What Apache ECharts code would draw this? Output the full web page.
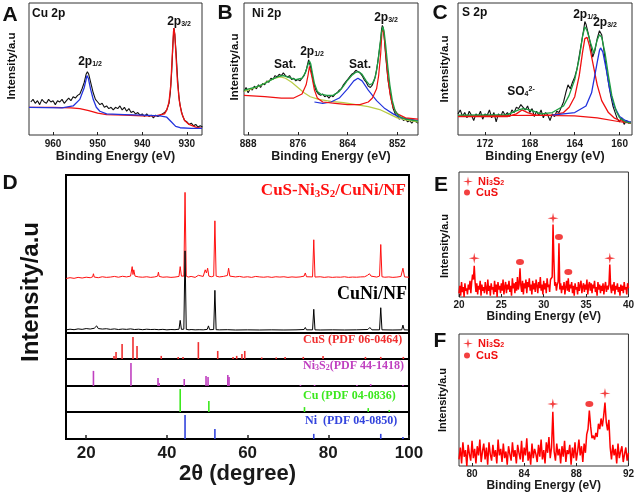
<!DOCTYPE html>
<html><head><meta charset="utf-8">
<script src="https://cdn.jsdelivr.net/npm/echarts@6/dist/echarts.min.js"></script>
<style>html,body{margin:0;padding:0;background:#fff}#c{width:637px;height:493px}</style>
</head><body><div id="c"></div>
<script>
// ---------- Panel A: Cu 2p (binding energy eV, intensity a.u.) ----------
const A_TICKS = [960, 950, 940, 930];
const A_EXP = [[965,25],[964.5,27],[964,24],[963.5,26],[963,23],[962.5,27],[962,25],[961.5,24],[961,27],[960.5,25],[960,26],[959.5,23],[959,26],[958.5,25],[958,27],[957.5,24],[957,26],[956.5,28],[956,26],[955.5,29],[955,28],[954.5,30],[954,31],[953.5,35],[953,40],[952.6,46],[952.3,48],[952,46],[951.5,39],[951,32],[950.5,27],[950,25],[949.5,23],[949,24],[948.5,21],[948,22],[947.5,20],[947,21],[946.5,19],[946,21],[945.5,20],[945,22],[944.5,19],[944,21],[943.5,18],[943,20],[942.5,17],[942,18],[941.5,16],[941,17],[940.5,15],[940,16],[939.5,14],[939,16],[938.5,14],[938,15],[937.5,13],[937,15],[936.5,14],[936,15],[935.5,16],[935,17],[934.5,19],[934,24],[933.7,32],[933.4,48],[933.1,70],[932.9,81],[932.7,76],[932.4,62],[932.1,44],[931.8,30],[931.5,22],[931,15],[930.5,11],[930,10],[929.5,8],[929,9],[928.5,7],[928,8],[927.5,6],[927,7],[926.5,6]];
const A_RED = [[965.4,21],[960,21],[956,20.5],[954,20],[952,18.5],[950,16.5],[948,15.5],[944,15],[940,14.5],[937,14.5],[935,16],[934.5,19],[934,25],[933.6,38],[933.3,58],[933,78],[932.9,81],[932.7,76],[932.4,58],[932.1,40],[931.7,26],[931.2,17],[930.5,11],[929.5,8],[928,6],[926.6,5]];
const A_BLUE = [[965.4,21],[958,20.5],[955.5,22],[954,27],[953,36],[952.6,42],[952.4,45],[952.1,43],[951.6,35],[951,27],[950.3,21],[949.5,18],[948,16],[944,15.5],[940,15],[936,14.5],[934.5,13.5],[933.5,10],[932.5,6.5],[931.5,5.5],[929,5],[926.6,5]];

// ---------- Panel B: Ni 2p ----------
const B_TICKS = [888, 876, 864, 852];
const B_EXP = [[889,33],[888.5,36],[888,32],[887.5,35],[887,34],[886.5,37],[886,35],[885.5,38],[885,36],[884.5,39],[884,38],[883.5,41],[883,40],[882.5,43],[882,42],[881.5,45],[881,44],[880.5,46],[880,45],[879.5,47],[879,45],[878.5,44],[878,45],[877.5,42],[877,43],[876.5,41],[876,42],[875.5,41],[875,43],[874.5,45],[874,49],[873.7,53],[873.4,57],[873.1,56],[872.8,50],[872.5,44],[872,37],[871.5,33],[871,31],[870.5,30],[870,31],[869.5,29],[869,30],[868.5,28],[868,30],[867.5,29],[867,31],[866.5,32],[866,34],[865.5,35],[865,38],[864.5,40],[864,42],[863.5,44],[863,46],[862.5,47],[862,49],[861.5,48],[861,47],[860.5,45],[860,42],[859.5,40],[859,37],[858.5,36],[858,38],[857.5,42],[857,49],[856.5,60],[856,72],[855.8,80],[855.6,83],[855.4,81],[855.1,72],[854.8,60],[854.5,50],[854.2,41],[853.8,33],[853.4,26],[853,20],[852.5,16],[852,14],[851.5,12],[851,13],[850.5,11],[850,12],[849.5,10],[849,11],[848.5,9],[848,11],[847.5,10],[847,9]];
const B_FIT = [[889,34],[886,36.5],[884,39],[882,42.5],[880.5,44.5],[879.5,45],[878,43.5],[876.5,42],[875,43],[874.2,47],[873.6,53],[873.2,56],[872.9,54],[872.5,47],[872,39],[871.3,33],[870.5,31],[869,30],[867.5,30],[866,33],[865,37],[864,41.5],[863,45],[862,47.5],[861.3,48],[860.5,46],[859.5,41],[858.7,38],[858,39],[857.3,44],[856.7,55],[856.2,68],[855.8,78],[855.5,82],[855.2,79],[854.8,68],[854.3,52],[853.8,38],[853.2,26],[852.5,18],[851.5,14],[850,12],[847,10.5]];
const B_SAT1 = [[889,33],[887,35],[885,37.5],[883,41],[881.5,43],[880.2,44],[879,43],[877.5,40],[876,36],[874.5,32],[873,29],[871,27],[868,25.5],[865,24.5],[862,23],[859,21.5],[856,19],[854,16],[852,13],[850,11.5],[847,10]];
const B_SAT2 = [[872,25],[870,24],[868,25],[866,28],[864,35],[862.5,41],[861.5,43],[860.5,41],[859,34],[857,26],[855,20],[853,16],[851,13],[849,12],[847,11]];
const B_RED = [[889,30],[884,29],[880,28],[877,28],[875,31],[874,38],[873.5,46],[873.2,52],[873,51],[872.6,44],[872,34],[871.3,28],[870,25],[867,24],[864,23],[861,23],[859,25],[858,28],[857,35],[856.5,45],[856,62],[855.7,78],[855.5,81],[855.2,76],[854.8,62],[854.3,44],[853.7,30],[853,21],[852,16],[850,13],[847,12]];

// ---------- Panel C: S 2p ----------
const C_TICKS = [172, 168, 164, 160];
const C_EXP = [[174.4,16],[174.2,19],[174,14],[173.8,17],[173.6,13],[173.4,18],[173.2,15],[173,11],[172.8,16],[172.6,14],[172.4,18],[172.2,12],[172,16],[171.8,15],[171.6,19],[171.4,13],[171.2,17],[171,10],[170.8,16],[170.6,14],[170.4,18],[170.2,15],[170,17],[169.8,14],[169.6,19],[169.4,17],[169.2,21],[169,20],[168.8,23],[168.6,21],[168.4,19],[168.2,22],[168,17],[167.8,20],[167.6,14],[167.4,18],[167.2,15],[167,19],[166.8,13],[166.6,17],[166.4,15],[166.2,11],[166,16],[165.8,14],[165.6,18],[165.4,17],[165.2,21],[165,25],[164.8,32],[164.6,38],[164.4,35],[164.2,40],[164,44],[163.8,50],[163.6,60],[163.4,70],[163.2,80],[163.1,86],[163,84],[162.8,77],[162.6,69],[162.4,59],[162.2,64],[162,73],[161.8,79],[161.6,76],[161.4,64],[161.2,51],[161,40],[160.8,30],[160.6,22],[160.4,17],[160.2,12],[160,10],[159.8,13],[159.6,8],[159.4,11],[159.2,9],[159,10]];
const C_FIT = [[174.4,15],[170,15.5],[169,19],[168.6,20],[168,19],[167,16],[166,17],[165,22],[164.5,30],[164,42],[163.6,58],[163.3,75],[163.1,82],[162.9,79],[162.6,70],[162.3,62],[162,72],[161.8,76],[161.6,74],[161.3,62],[161,45],[160.7,30],[160.3,18],[160,13],[159.5,10],[159,9]];
const C_RED = [[174.4,14],[170,14],[169.2,16],[168.7,19],[168.2,17],[167.5,15],[166,15],[165,17],[164.5,21],[164,29],[163.6,45],[163.3,63],[163.1,73],[162.9,74],[162.7,68],[162.4,55],[162,38],[161.6,26],[161,17],[160.5,13],[160,11],[159,9]];
const C_BLUE = [[166,15],[164,17],[163,22],[162.5,32],[162,55],[161.8,64],[161.7,66],[161.5,63],[161.2,50],[160.9,35],[160.5,22],[160,14],[159.5,11],[159,9.5]];
const C_BG = [[174.4,14.5],[168,15],[164,14.5],[162,13],[160,10],[159,9]];

// ---------- Panel D: XRD (2theta degree) ----------
const D_TICKS = [20, 40, 60, 80, 100];
const XRD_SAMPLE = [[15,34.5],[16,35],[17,34.6],[18,35.2],[19,34.8],[20,35.3],[21,35],[21.6,35.5],[21.8,37.5],[22,35.4],[23,35],[24,35.6],[25,35.2],[26,35.4],[27,35.8],[28,35.3],[29,35.9],[30,35.5],[31,36],[31.4,42],[31.6,37],[31.8,40],[32.1,36],[33,35.5],[34,35.3],[35,35.6],[36,35.2],[37,35.5],[37.7,36],[37.9,38.5],[38.1,35.8],[39,35.3],[40,35.5],[41,35.2],[42,35.4],[43,35.8],[43.3,42],[43.6,36],[44.2,36],[44.5,89],[44.8,36],[45.3,35.4],[46,35.8],[47,35.2],[47.8,36.5],[48,35.5],[49,35.8],[49.5,40],[49.8,38],[50.1,41],[50.4,36],[51,35.6],[51.6,36],[51.9,71],[52.2,36],[53,35.5],[54,35.8],[55,36.4],[55.3,41],[55.6,36],[56,36.2],[57,35.5],[58,35.8],[59,35.3],[60,35.6],[61,35.2],[62,35.8],[63,35.5],[64,35.3],[65,35.6],[66,35.2],[67,35.6],[68,35.4],[69,35.6],[70,35.2],[71,35.5],[72,35.3],[73,35.5],[74,36],[74.3,38],[74.6,35.6],[75,35.4],[76.1,35.5],[76.4,59],[76.7,35.4],[77,35.3],[78,35.6],[79,35.2],[80,35.5],[81,35.2],[82,35.4],[83,35.3],[84,35.6],[85,35.2],[86,35.4],[87,35.3],[88,35.5],[89,35.6],[89.7,36.5],[90.2,37.5],[90.6,36],[91,35.5],[92,35.4],[92.7,36],[93,56],[93.3,35.6],[94,35.3],[95,35.5],[96,35.2],[97,35.4],[98,35.8],[98.5,41],[98.9,35.5],[100,35.3]];
const XRD_CUNI = [[15,2],[16,2.4],[17,2.1],[18,2.6],[19,2.3],[20,2.8],[21,2.5],[22,3],[22.6,4.5],[23,2.8],[24,2.5],[25,2.7],[26,2.3],[27,2.6],[28,2.2],[29,2.5],[30,2.3],[31,2.6],[32,2.2],[33,2.4],[34,2.1],[35,2.4],[36,2.2],[37,2.3],[38,2.1],[39,2.3],[40,2],[41,2.2],[42,2.1],[43,2.4],[43.3,8],[43.6,2.3],[44.2,2.4],[44.5,52],[44.8,2.3],[45.5,2],[46,2.2],[47,2],[48,2.1],[49,2],[50,2.3],[50.3,4.5],[50.6,2.1],[51.6,2.2],[51.9,27],[52.2,2.1],[53,2],[55,2.1],[57,1.9],[60,2],[63,1.9],[66,2],[69,1.9],[72,2],[74,2.2],[74.3,3.5],[74.6,2],[76.1,2],[76.4,15],[76.7,2],[78,1.9],[81,2],[84,1.9],[87,2],[89.8,2.2],[90.3,3.5],[90.8,2],[92.7,2],[93,16],[93.3,2],[96,1.9],[98.2,2],[98.5,5],[98.8,2],[100,1.9]];
const REF_CUS = [[26.9,12],[27.4,27],[28.9,58],[31.6,85],[32.6,50],[38.6,12],[42.8,8],[44.0,8],[47.8,65],[52.6,31],[56.4,8],[57.3,12],[58.6,19],[59.3,31],[63.5,6],[67.1,6],[69.3,8],[73.8,8],[78.7,12],[89.2,8],[93.0,8],[98.6,8]];
const REF_NI3S2 = [[21.8,56],[31.1,85],[37.8,30],[38.1,11],[44.3,26],[49.7,37],[50.2,33],[55.1,41],[55.4,33],[73.1,4],[76.6,4],[87.1,4],[90.5,7],[98.5,4]];
const REF_CU = [[43.3,88],[50.4,42],[74.1,19],[89.9,15],[95.1,8]];
const REF_NI = [[44.5,89],[51.9,37],[76.4,19],[93.0,19],[98.5,7]];

// ---------- Panel E ----------
const E_TICKS = [20, 25, 30, 35, 40];
const E_DATA = [[20,3],[20.1,9],[20.2,1],[20.3,12],[20.4,4],[20.5,8],[20.6,0],[20.7,11],[20.8,5],[20.9,7],
[21,2],[21.1,10],[21.2,6],[21.3,13],[21.4,3],[21.5,12],[21.6,18],[21.7,14],[21.8,25],[21.9,12],
[22,4],[22.1,11],[22.2,2],[22.3,9],[22.4,6],[22.5,13],[22.6,1],[22.7,10],[22.8,5],[22.9,8],
[23,3],[23.1,12],[23.2,7],[23.3,2],[23.4,14],[23.5,5],[23.6,9],[23.7,1],[23.8,11],[23.9,6],
[24,8],[24.1,2],[24.2,13],[24.3,4],[24.4,10],[24.5,0],[24.6,12],[24.7,6],[24.8,9],[24.9,3],
[25,11],[25.1,5],[25.2,14],[25.3,2],[25.4,8],[25.5,12],[25.6,3],[25.7,10],[25.8,6],[25.9,13],
[26,4],[26.1,9],[26.2,1],[26.3,15],[26.4,7],[26.5,11],[26.6,3],[26.7,12],[26.8,5],[26.9,16],
[27,6],[27.1,10],[27.2,23],[27.3,9],[27.4,4],[27.5,13],[27.6,2],[27.7,11],[27.8,7],[27.9,14],
[28,3],[28.1,12],[28.2,8],[28.3,15],[28.4,5],[28.5,10],[28.6,2],[28.7,13],[28.8,6],[28.9,11],
[29,4],[29.1,14],[29.2,9],[29.3,3],[29.4,12],[29.5,7],[29.6,16],[29.7,5],[29.8,10],[29.9,2],
[30,13],[30.1,6],[30.2,11],[30.3,3],[30.4,15],[30.5,8],[30.6,10],[30.7,4],[30.8,14],[30.9,13],
[31,16],[31.1,58],[31.2,30],[31.3,9],[31.4,12],[31.5,5],[31.6,10],[31.7,12],[31.8,43],[31.9,6],
[32,11],[32.1,3],[32.2,9],[32.3,6],[32.4,12],[32.5,2],[32.6,8],[32.7,13],[32.8,5],[32.9,15],
[33,4],[33.1,10],[33.2,7],[33.3,12],[33.4,3],[33.5,9],[33.6,1],[33.7,11],[33.8,6],[33.9,8],
[34,2],[34.1,12],[34.2,5],[34.3,9],[34.4,13],[34.5,3],[34.6,8],[34.7,11],[34.8,4],[34.9,10],
[35,6],[35.1,14],[35.2,2],[35.3,9],[35.4,12],[35.5,5],[35.6,11],[35.7,3],[35.8,10],[35.9,7],
[36,13],[36.1,4],[36.2,8],[36.3,1],[36.4,12],[36.5,6],[36.6,10],[36.7,3],[36.8,9],[36.9,5],
[37,11],[37.1,2],[37.2,8],[37.3,12],[37.4,4],[37.5,9],[37.6,6],[37.7,10],[37.8,26],[37.9,8],
[38,3],[38.1,10],[38.2,5],[38.3,12],[38.4,2],[38.5,9],[38.6,6],[38.7,11],[38.8,4],[38.9,8],
[39,1],[39.1,10],[39.2,5],[39.3,9],[39.4,3],[39.5,12],[39.6,6],[39.7,8],[39.8,2],[39.9,11],[40,7]];
const E_NI3S2_MARK = [[21.8,31],[31.1,63],[37.8,31]];
const E_CUS_MARK = [[27.2,28],[31.8,48],[32.9,20]];

// ---------- Panel F ----------
const F_TICKS = [80, 84, 88, 92];
const F_DATA = [[79,5],[79.1,14],[79.2,2],[79.3,18],[79.4,7],[79.5,12],[79.6,0],[79.7,16],[79.8,9],[79.9,4],
[80,19],[80.1,6],[80.2,13],[80.3,2],[80.4,15],[80.5,8],[80.6,20],[80.7,3],[80.8,11],[80.9,17],
[81,5],[81.1,14],[81.2,1],[81.3,18],[81.4,9],[81.5,4],[81.6,16],[81.7,7],[81.8,12],[81.9,2],
[82,20],[82.1,8],[82.2,13],[82.3,3],[82.4,17],[82.5,6],[82.6,11],[82.7,1],[82.8,15],[82.9,9],
[83,4],[83.1,18],[83.2,7],[83.3,12],[83.4,2],[83.5,16],[83.6,10],[83.7,5],[83.8,19],[83.9,3],
[84,14],[84.1,8],[84.2,21],[84.3,4],[84.4,11],[84.5,1],[84.6,17],[84.7,6],[84.8,13],[84.9,9],
[85,3],[85.1,16],[85.2,7],[85.3,20],[85.4,5],[85.5,12],[85.6,2],[85.7,18],[85.8,10],[85.9,22],
[86,6],[86.1,14],[86.2,41],[86.3,11],[86.4,4],[86.5,17],[86.6,8],[86.7,13],[86.8,2],[86.9,15],
[87,7],[87.1,19],[87.2,3],[87.3,12],[87.4,9],[87.5,16],[87.6,1],[87.7,14],[87.8,6],[87.9,18],
[88,4],[88.1,11],[88.2,20],[88.3,8],[88.4,15],[88.5,3],[88.6,17],[88.7,10],[88.8,24],[88.9,28],
[89,42],[89.1,30],[89.2,21],[89.3,23],[89.4,20],[89.5,25],[89.6,22],[89.7,32],[89.8,28],[89.9,36],
[90,30],[90.1,38],[90.2,48],[90.3,33],[90.4,27],[90.5,35],[90.6,14],[90.7,5],[90.8,16],[90.9,8],
[91,13],[91.1,2],[91.2,17],[91.3,6],[91.4,11],[91.5,15],[91.6,3],[91.7,9],[91.8,14],[91.9,4],[92,10]];
const F_NI3S2_MARK = [[86.2,47],[90.2,55]];
const F_CUS_MARK = [[89.0,47]];

// ---------- styling ----------
const SANS = "'Liberation Sans', Arial, sans-serif";
const SERIF = "'Liberation Serif', 'Times New Roman', serif";
const RED = '#f01010', BLUE = '#2233dd', GREEN = '#1c9c40', LGREEN = '#b9cc46';
const STAR = 'path://M0,-10L1.7,-1.7L10,0L1.7,1.7L0,10L-1.7,1.7L-10,0L-1.7,-1.7Z';

const chart = echarts.init(document.getElementById('c'), null, {renderer: 'canvas'});

const thinBox = {show: true, borderColor: '#333', borderWidth: 1, backgroundColor: 'transparent', containLabel: false};
const dBox = {show: true, borderColor: '#000', borderWidth: 2, backgroundColor: 'transparent', containLabel: false};
const grids = [
  Object.assign({left: 29, top: 3, width: 173, height: 132}, thinBox),
  Object.assign({left: 244, top: 3, width: 174, height: 132}, thinBox),
  Object.assign({left: 458, top: 3, width: 174, height: 132}, thinBox),
  Object.assign({left: 66, top: 175, width: 343, height: 158}, dBox),
  Object.assign({left: 66, top: 333, width: 343, height: 26}, dBox),
  Object.assign({left: 66, top: 359, width: 343, height: 27}, dBox),
  Object.assign({left: 66, top: 386, width: 343, height: 26}, dBox),
  Object.assign({left: 66, top: 412, width: 343, height: 27}, dBox),
  Object.assign({left: 459, top: 172, width: 172, height: 125}, thinBox),
  Object.assign({left: 459, top: 334, width: 172, height: 132}, thinBox)
];

function xAx(gi, min, max, inverse, ticks, o) {
  o = o || {};
  return {
    gridIndex: gi, type: 'value', min: min, max: max, inverse: inverse,
    axisLine: {show: false},
    splitLine: {show: false},
    axisTick: {show: true, inside: true, length: o.tickLen || 3, customValues: ticks, lineStyle: {color: '#222', width: o.tickW || 1}},
    axisLabel: {customValues: ticks, fontSize: o.fs || 10, fontWeight: 'bold', fontFamily: SANS, color: '#1a1a1a', margin: o.margin || 4},
    name: o.name || 'Binding Energy (eV)', nameLocation: 'middle', nameGap: o.gap || 11,
    nameTextStyle: {fontSize: o.nfs || 12.5, fontWeight: 'bold', fontFamily: SANS, color: '#1a1a1a'}
  };
}
function hiddenX(gi) { return {gridIndex: gi, type: 'value', min: 15, max: 100, show: false}; }

const xAxes = [
  xAx(0, 926.6, 965.4, true, A_TICKS),
  xAx(1, 847, 889, true, B_TICKS),
  xAx(2, 158.9, 174.4, true, C_TICKS),
  hiddenX(3), hiddenX(4), hiddenX(5), hiddenX(6),
  xAx(7, 15, 100, false, D_TICKS, {fs: 17, margin: 6, gap: 22, nfs: 22, name: '2\u03b8 (degree)', tickLen: 4, tickW: 1.5}),
  xAx(8, 20, 40, false, E_TICKS, {fs: 10, margin: 3, gap: 14, nfs: 12}),
  xAx(9, 79, 92, false, F_TICKS, {fs: 10, margin: 3, gap: 12, nfs: 12})
];
const yAxes = grids.map((g, i) => ({gridIndex: i, type: 'value', min: 0, max: 100, show: false}));

function ln(xi, data, color, w, z) {
  return {type: 'line', xAxisIndex: xi, yAxisIndex: xi, data: data, showSymbol: false, symbol: 'none',
    lineStyle: {color: color, width: w || 1.2}, itemStyle: {color: color}, z: z || 2, clip: true, silent: true, animation: false};
}
function sticks(xi, data, color) {
  return {type: 'bar', xAxisIndex: xi, yAxisIndex: xi, data: data, barWidth: 1.6, itemStyle: {color: color}, silent: true, animation: false};
}
function marks(xi, name, data, symbol, size) {
  return {type: 'scatter', name: name, xAxisIndex: xi, yAxisIndex: xi, data: data, symbol: symbol, symbolSize: size,
    itemStyle: {color: RED}, z: 5, silent: true, animation: false};
}

const series = [
  ln(0, A_EXP, '#111', 1.1), ln(0, A_RED, RED, 1.3), ln(0, A_BLUE, BLUE, 1.3),
  ln(1, B_EXP, '#111', 1.1), ln(1, B_SAT1, LGREEN, 1.2), ln(1, B_SAT2, BLUE, 1.2), ln(1, B_RED, RED, 1.2), ln(1, B_FIT, GREEN, 1.3),
  ln(2, C_EXP, '#111', 1.1), ln(2, C_BG, RED, 1.1), ln(2, C_RED, RED, 1.3), ln(2, C_BLUE, BLUE, 1.3), ln(2, C_FIT, GREEN, 1.3),
  ln(3, XRD_SAMPLE, '#ff1010', 1), ln(3, XRD_CUNI, '#000', 1, 3),
  sticks(4, REF_CUS, '#f03030'), sticks(5, REF_NI3S2, '#c040c0'), sticks(6, REF_CU, '#3ce81e'), sticks(7, REF_NI, '#3344dd'),
  ln(8, E_DATA, '#ff0000', 1.5), marks(8, 'Ni3S2', E_NI3S2_MARK, STAR, 11), marks(8, 'CuS', E_CUS_MARK, 'circle', [8, 6]),
  ln(9, F_DATA, '#ff0000', 1.5), marks(9, 'Ni3S2', F_NI3S2_MARK, STAR, 11), marks(9, 'CuS', F_CUS_MARK, 'circle', [8, 6])
];

function legendItem(left, top, name, icon, w, h) {
  return {
    left: left, top: top, orient: 'vertical', itemGap: 0, itemWidth: w, itemHeight: h, selectedMode: false, padding: 0,
    data: [{name: name, icon: icon}],
    formatter: n => n === 'Ni3S2' ? '{n|Ni}{s|3}{n|S}{s|2}' : '{n|CuS}',
    textStyle: {color: RED, fontSize: 11, fontWeight: 'bold', fontFamily: SANS,
      rich: {n: {fontSize: 11, fontWeight: 'bold', color: RED, fontFamily: SANS, verticalAlign: 'bottom'},
             s: {fontSize: 7, fontWeight: 'bold', color: RED, fontFamily: SANS, verticalAlign: 'bottom'}}}
  };
}

function T(x, y, text, o) {
  o = o || {};
  const st = {text: text, x: 0, y: 0, fill: o.color || '#111', fontSize: o.fs || 12, fontWeight: 'bold',
    fontFamily: o.ff || SANS, align: o.align || 'center', verticalAlign: 'middle',
    textAlign: o.align || 'center', textVerticalAlign: 'middle'};
  if (o.rich) st.rich = o.rich;
  return {type: 'text', x: x, y: y, rotation: o.rot || 0, style: st, silent: true, z: 10};
}
const subRich = (fs, sfs, color, ff) => ({
  m: {fontSize: fs, fontWeight: 'bold', fontFamily: ff || SANS, fill: color || '#111', color: color || '#111', verticalAlign: 'bottom'},
  s: {fontSize: sfs, fontWeight: 'bold', fontFamily: ff || SANS, fill: color || '#111', color: color || '#111', verticalAlign: 'bottom'},
  u: {fontSize: sfs, fontWeight: 'bold', fontFamily: ff || SANS, fill: color || '#111', color: color || '#111', verticalAlign: 'top'}
});
const pr = subRich(12, 7);

const graphics = [
  T(10, 15, 'A', {fs: 21}), T(225, 13, 'B', {fs: 21}), T(440, 13, 'C', {fs: 21}),
  T(10, 183, 'D', {fs: 21}), T(441, 185, 'E', {fs: 21}), T(440, 341, 'F', {fs: 21}),
  T(32, 14, 'Cu 2p', {align: 'left'}), T(252, 14, 'Ni 2p', {align: 'left'}), T(462, 13, 'S 2p', {align: 'left'}),
  T(179, 22, '{m|2p}{s|3/2}', {rich: pr}), T(90, 62, '{m|2p}{s|1/2}', {rich: pr}),
  T(285, 65, 'Sat.'), T(312, 52, '{m|2p}{s|1/2}', {rich: pr}), T(360, 65, 'Sat.'), T(386, 18, '{m|2p}{s|3/2}', {rich: pr}),
  T(585, 15, '{m|2p}{s|1/2}', {rich: pr}), T(605, 23, '{m|2p}{s|3/2}', {rich: pr}), T(521, 92, '{m|SO}{s|4}{u|2-}', {rich: pr}),
  T(12, 66, 'Intensity/a.u', {rot: Math.PI / 2, fs: 11.5}),
  T(235, 67, 'Intensity/a.u', {rot: Math.PI / 2, fs: 11.5}),
  T(445, 69, 'Intensity/a.u', {rot: Math.PI / 2, fs: 11.5}),
  T(31, 292, 'Intensity/a.u', {rot: Math.PI / 2, fs: 24}),
  T(445, 246, 'Intensity/a.u', {rot: Math.PI / 2, fs: 11}),
  T(443, 400, 'Intensity/a.u', {rot: Math.PI / 2, fs: 11}),
  T(406, 191, '{m|CuS-Ni}{s|3}{m|S}{s|2}{m|/CuNi/NF}', {align: 'right', rich: subRich(17, 11, '#ff1010', SERIF), color: '#ff1010', ff: SERIF, fs: 17}),
  T(407, 294, 'CuNi/NF', {align: 'right', fs: 18, ff: SERIF, color: '#000'}),
  T(303, 340, 'CuS (PDF 06-0464)', {align: 'left', fs: 12, ff: SERIF, color: '#f03030'}),
  T(303, 366, '{m|Ni}{s|3}{m|S}{s|2}{m|(PDF 44-1418)}', {align: 'left', fs: 12, ff: SERIF, color: '#c040c0', rich: subRich(12, 8, '#c040c0', SERIF)}),
  T(303, 396, 'Cu (PDF 04-0836)', {align: 'left', fs: 12, ff: SERIF, color: '#3ce81e'}),
  T(305, 421, 'Ni  (PDF 04-0850)', {align: 'left', fs: 12, ff: SERIF, color: '#3344dd'})
];

chart.setOption({
  animation: false,
  backgroundColor: '#fff',
  grid: grids,
  xAxis: xAxes,
  yAxis: yAxes,
  legend: [
    legendItem(463, 176, 'Ni3S2', STAR, 10, 10), legendItem(464, 187, 'CuS', 'circle', 8, 6),
    legendItem(463, 338, 'Ni3S2', STAR, 10, 10), legendItem(464, 350, 'CuS', 'circle', 8, 6)
  ],
  series: series,
  graphic: {elements: graphics}
});
</script></body></html>
